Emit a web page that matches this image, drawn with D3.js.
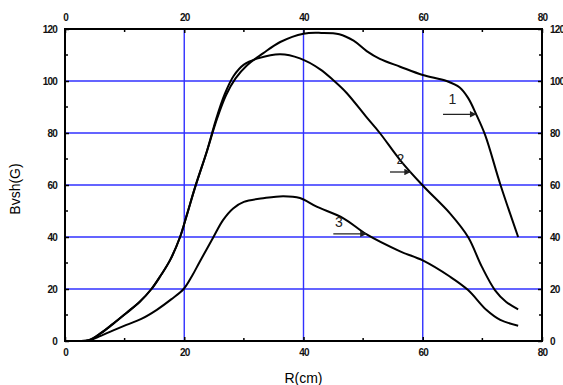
<!DOCTYPE html>
<html>
<head>
<meta charset="utf-8">
<script src="https://cdn.jsdelivr.net/npm/d3@7"></script>
<style>
  body { margin: 0; background: #fff; }
  text { font-family: "Liberation Sans", Arial, sans-serif; }
</style>
</head>
<body>
<div id="chart"></div>
<script>
// curve 1
const curve1 = [[0,0],[2,0],[4,0.3],[6,3],[8,6.5],[10.3,10.8],[12.5,15],[14.5,20],[16,25],[17.6,31],
  [19.3,40],[20.5,49],[21.8,59],[23.8,73],[25.5,85.5],[27,94.5],[28.6,101],[30.5,106],[33.2,110.6],
  [36.1,115],[40,118.2],[43,118.5],[46,118],[48.4,115.5],[50.6,111.5],[52.8,108.5],[56.2,105.5],
  [60,102.3],[64,100],[66.2,97.5],[67.6,93.5],[69,87],[70.5,79],[73,60.3],[76,40]];
// curve 2
const curve2 = [[0,0],[2,0],[4,0.3],[6,3],[8,6.5],[10.3,10.8],[12.5,15],[14.5,20],[16,25],[17.6,31],
  [19.3,40],[20.5,49],[21.8,59],[23.8,73],[25.3,85],[26.8,95],[28.3,102],[30,106.3],[32.5,108.8],
  [36.1,110.3],[39.4,108.7],[42.8,104.5],[45,100.3],[47.2,95.5],[50.6,86],[52.8,80],[56.2,69.6],
  [60,59.8],[64.6,49],[67.6,40],[69.9,28.6],[72.1,19.6],[74,15],[76,12.2]];
// curve 3
const curve3 = [[0,0],[2,0],[4,0.2],[6,2],[8,4],[10.3,6.2],[12.8,8.5],[15.4,12],[17.8,16],[19.9,20],
  [21.3,25],[22.6,30.5],[24.9,40],[26.5,46.5],[28.2,51],[30,53.5],[33.5,55],[36.6,55.7],[39.4,55],
  [42.2,51.7],[46.7,47.2],[50.6,41],[56.2,34.5],[60,31],[64.6,24.7],[67.6,19.6],[70.7,11.9],
  [73,8.1],[76,5.9]];

const xTicks = [0, 20, 40, 60, 80];
const yTicks = [0, 20, 40, 60, 80, 100, 120];
// curve labels: text position and arrow [x0, x1, y] in data units
const labels = [
  {name: "1", tx: 64.3, ty: 91, ax0: 63.4, ax1: 69, ay: 87.2},
  {name: "2", tx: 55.6, ty: 68, ax0: 54.5, ax1: 58, ay: 65},
  {name: "3", tx: 45.3, ty: 44, ax0: 45, ax1: 50.6, ay: 41.2}
];

const margin = {top: 29, right: 21, bottom: 44, left: 65};
const W = 563, H = 385;
const width = W - margin.left - margin.right,
      height = H - margin.top - margin.bottom;

const svg = d3.select("#chart").append("svg")
  .attr("width", W).attr("height", H)
  .append("g")
  .attr("transform", `translate(${margin.left},${margin.top})`);

const x = d3.scaleLinear().domain([0, 80]).range([0, width]);
const y = d3.scaleLinear().domain([0, 120]).range([height, 0]);

// grid
svg.append("g").selectAll("line.gx")
  .data(xTicks.slice(1, -1)).join("line")
  .attr("x1", d => x(d)).attr("x2", d => x(d))
  .attr("y1", 0).attr("y2", height)
  .attr("stroke", "#3030ff").attr("stroke-width", 1.4);
svg.append("g").selectAll("line.gy")
  .data(yTicks.slice(1, -1)).join("line")
  .attr("x1", 0).attr("x2", width)
  .attr("y1", d => y(d)).attr("y2", d => y(d))
  .attr("stroke", "#3030ff").attr("stroke-width", 1.4);

// axes: ticks inward, major + minor
const minorX = d3.range(10, 80, 20), minorY = d3.range(10, 120, 20);
function styleAxis(g) {
  g.select(".domain").remove();
  g.selectAll("line").attr("stroke", "#000").attr("stroke-width", 1.5);
  g.selectAll("text").attr("font-size", 10).attr("font-weight", "bold")
    .attr("letter-spacing", -0.8).attr("fill", "#111");
}
svg.append("g").attr("transform", `translate(0,${height})`)
  .call(d3.axisBottom(x).tickValues(xTicks).tickSize(-4).tickPadding(8)).call(styleAxis);
svg.append("g")
  .call(d3.axisTop(x).tickValues(xTicks).tickSize(-4).tickPadding(8)).call(styleAxis);
svg.append("g")
  .call(d3.axisLeft(y).tickValues(yTicks).tickSize(-4).tickPadding(8)).call(styleAxis);
svg.append("g").attr("transform", `translate(${width},0)`)
  .call(d3.axisRight(y).tickValues(yTicks).tickSize(-4).tickPadding(8)).call(styleAxis);

// minor ticks
svg.append("g").selectAll("line").data(minorX).join("line")
  .attr("x1", d => x(d)).attr("x2", d => x(d)).attr("y1", height).attr("y2", height - 3)
  .attr("stroke", "#000").attr("stroke-width", 1.5);
svg.append("g").selectAll("line").data(minorX).join("line")
  .attr("x1", d => x(d)).attr("x2", d => x(d)).attr("y1", 0).attr("y2", 3)
  .attr("stroke", "#000").attr("stroke-width", 1.5);
svg.append("g").selectAll("line").data(minorY).join("line")
  .attr("x1", 0).attr("x2", 3).attr("y1", d => y(d)).attr("y2", d => y(d))
  .attr("stroke", "#000").attr("stroke-width", 1.5);
svg.append("g").selectAll("line").data(minorY).join("line")
  .attr("x1", width).attr("x2", width - 3).attr("y1", d => y(d)).attr("y2", d => y(d))
  .attr("stroke", "#000").attr("stroke-width", 1.5);

// frame
svg.append("rect").attr("width", width).attr("height", height)
  .attr("fill", "none").attr("stroke", "#000").attr("stroke-width", 2);

// curves
const line = d3.line().x(d => x(d[0])).y(d => y(d[1])).curve(d3.curveCatmullRom.alpha(0.5));
svg.selectAll(".curve").data([curve1, curve2, curve3]).join("path")
  .attr("class", "curve")
  .attr("d", line)
  .attr("fill", "none").attr("stroke", "#000").attr("stroke-width", 2);

// labels with arrows
svg.append("defs").append("marker")
  .attr("id", "arr").attr("viewBox", "0 0 10 10").attr("refX", 10).attr("refY", 5)
  .attr("markerWidth", 7).attr("markerHeight", 5).attr("orient", "auto")
  .append("path").attr("d", "M0,0L10,5L0,10z").attr("fill", "#222");

const lab = svg.selectAll(".lab").data(labels).join("g").attr("class", "lab");
lab.append("text")
  .attr("x", d => x(d.tx)).attr("y", d => y(d.ty))
  .attr("font-size", 14).attr("fill", "#222").text(d => d.name);
lab.append("line")
  .attr("x1", d => x(d.ax0)).attr("x2", d => x(d.ax1))
  .attr("y1", d => y(d.ay)).attr("y2", d => y(d.ay))
  .attr("stroke", "#222").attr("stroke-width", 1.3)
  .attr("marker-end", "url(#arr)");

// axis titles
svg.append("text")
  .attr("x", width / 2).attr("y", height + 42)
  .attr("text-anchor", "middle").attr("font-size", 14).text("R(cm)");
svg.append("text")
  .attr("transform", `translate(${-45},${height / 2 + 4}) rotate(-90)`)
  .attr("text-anchor", "middle").attr("font-size", 14).text("Bvsh(G)");
</script>
</body>
</html>
